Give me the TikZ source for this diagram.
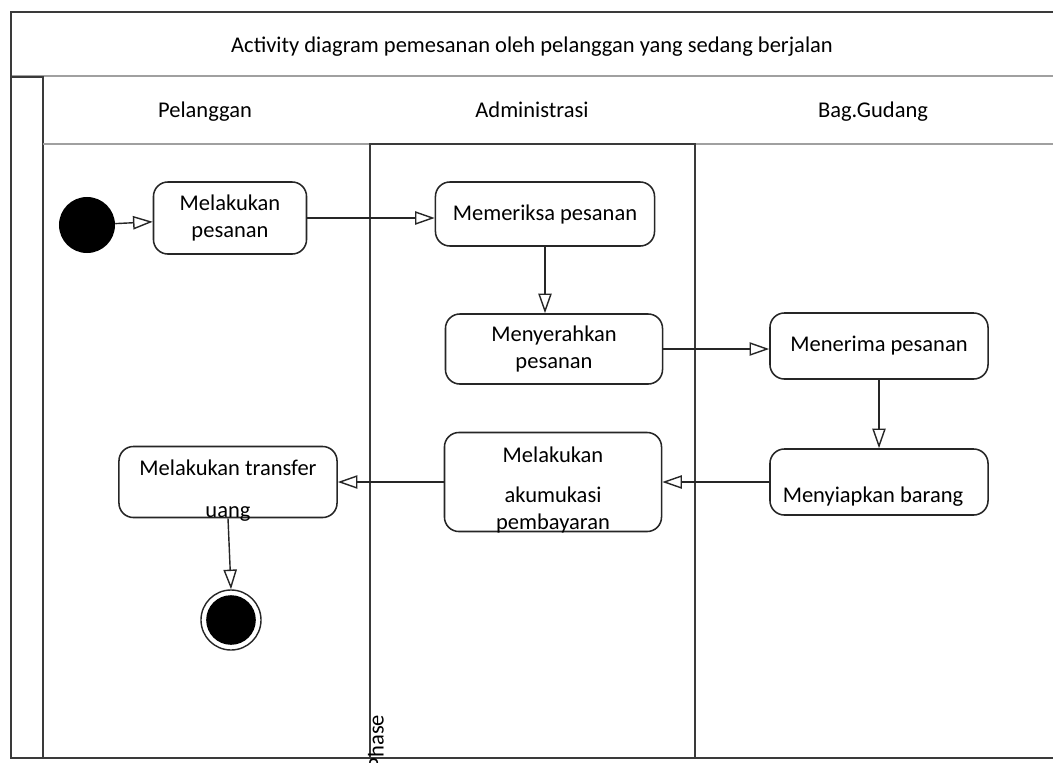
\documentclass[tikz,border=0pt]{standalone}
\usepackage{fontspec}
\setmainfont{Carlito}
\usetikzlibrary{arrows.meta,positioning,calc}
\definecolor{frame}{HTML}{3A3A3A}
\definecolor{sep}{HTML}{A0A0A0}

\begin{document}
\begin{tikzpicture}[x=0.025cm,y=-0.025cm,
  act/.style={draw=black!85,line width=1.1pt,rounded corners=0.36cm,align=center,inner sep=2pt,
    font=\fontsize{16}{19.5}\selectfont},
  lab/.style={font=\fontsize{16}{19.5}\selectfont},
  head/.style={lab,anchor=base},
  arr/.style={-{Triangle[open,length=14pt,width=9.5pt,fill=white]},line width=1pt,black!85},
  lane/.style={line width=1.3pt,frame},
  grid/.style={line width=0.8pt,sep}]
\useasboundingbox (0,0) rectangle (1053,763);
% frame and swimlanes
\draw[lane,line width=1.5pt] (10,12) -- (1053,12);
\draw[grid] (10,76) -- (1053,76);
\draw[lane] (11,12) -- (11,758) -- (1053,758);
\draw[lane] (11,77) -- (43,77) -- (43,758);
\draw[grid] (43,144) -- (1053,144);
\draw[lane] (370,758) -- (370,144) -- (695,144) -- (695,758);
\node[head] (title) at (532,52) {Activity diagram pemesanan oleh pelanggan yang sedang berjalan};
\node[head] (hp) at (205,117) {Pelanggan};
\node[head] (ha) at (532,117) {Administrasi};
\node[head] (hg) at (873,117) {Bag.Gudang};
\node[lab,rotate=90,inner sep=0pt] (phase) at (376,742) {Phase};
% activities
\node[circle,fill=black,minimum size=1.4cm,inner sep=0pt] (start) at (87,225) {};
\node[act,minimum width=3.825cm,minimum height=1.8cm] (n1) at (230,218) {Melakukan\\pesanan};
\node[act,minimum width=5.475cm,minimum height=1.6cm] (n2) at (545,214) {Memeriksa pesanan};
\node[act,minimum width=5.425cm,minimum height=1.75cm] (n3) at (554,349) {Menyerahkan\\pesanan};
\node[act,minimum width=5.45cm,minimum height=1.65cm] (n4) at (879,346) {Menerima pesanan};
\node[act,minimum width=5.45cm,minimum height=1.65cm,
  label={[lab,xshift=-0.15cm,yshift=-0.375cm]center:Menyiapkan barang}] (n5) at (879,482) {};
\node[act,minimum width=5.425cm,minimum height=2.475cm,
  label={[lab,align=center,yshift=-0.2cm]center:Melakukan\\[0.3cm]akumukasi\\pembayaran}] (n6) at (553,482) {};
\node[act,minimum width=5.45cm,minimum height=1.775cm,
  label={[lab,align=center,yshift=-0.22cm]center:Melakukan transfer\\[0.365cm]uang}] (n7) at (228,482) {};
\node[circle,draw=black!85,line width=1pt,minimum size=1.5cm,inner sep=0pt] (end) at (231,620) {};
\fill (end.center) circle[radius=0.62cm];
% flows
\draw[arr] (start) -- (n1);
\draw[arr] (n1.east) -- (n1.east -| n2.west);
\draw[arr] (n2.south) -- (n2.south |- n3.north);
\draw[arr] (n3.east) -- (n3.east -| n4.west);
\draw[arr] (n4) -- (n5);
\draw[arr] (n5.west) -- (n5.west -| n6.east);
\draw[arr] (n6.west) -- (n6.west -| n7.east);
\draw[arr] (n7.south) -- (end.north);
\end{tikzpicture}
\end{document}
